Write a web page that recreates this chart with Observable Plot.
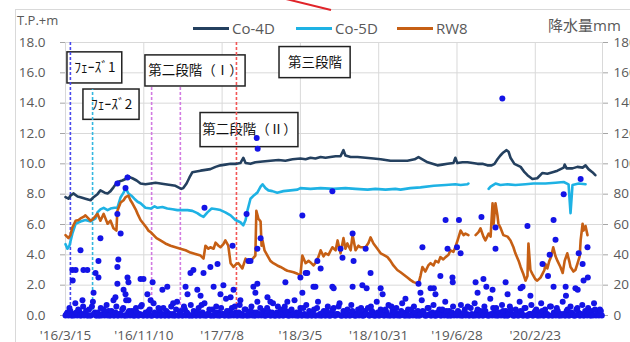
<!DOCTYPE html>
<html><head><meta charset="utf-8">
<script src="https://cdn.jsdelivr.net/npm/d3@7"></script>
<script src="https://cdn.jsdelivr.net/npm/@observablehq/plot@0.6"></script>
<style>
html,body{margin:0;padding:0;background:#fff;overflow:hidden}
#wrap{position:relative;width:630px;height:342px;overflow:hidden;background:#fff;font-family:"Open Sans","Noto Sans CJK JP",sans-serif;color:#595959}
.abs{position:absolute;white-space:nowrap}
#frame{position:absolute;left:15px;top:9px;width:700px;height:400px;border:1px solid #d9d9d9}
#chart{position:absolute;left:0;top:0}
.lg{position:absolute;top:21px;font-size:15px;line-height:15px;color:#595959}
.lgline{position:absolute;top:27px;height:3px}
</style></head>
<body>
<div id="wrap">
  <div id="frame"></div>
  <div id="chart"></div>
  <div class="abs" style="left:17px;top:13px;font-size:13px;line-height:14px">T.P.+m</div>
  <div id="legend"></div>
  <div class="abs" style="left:548px;top:17px;font-size:15px;line-height:16px">降水量mm</div>
  <svg class="abs" style="left:0;top:0" width="630" height="20"><line x1="286" y1="-1" x2="331" y2="10" stroke="#e0242a" stroke-width="2"/></svg>
</div>
<script>
// ---- data ----
const seriesNames = ["Co-4D","Co-5D","RW8"];
const seriesColors = ["#24405f","#1eb2e4","#c65f14"];

const yTicks = [0,2,4,6,8,10,12,14,16,18];
const yTickLabels = ["0.0","2.0","4.0","6.0","8.0","10.0","12.0","14.0","16.0","18.0"];
const rainTickLabels = ["0","20","40","60","80","100","120","140","160","180"];
const xTickDates = ["2016-03-15","2016-11-10","2017-07-08","2018-03-05","2018-10-31","2019-06-28","2020-02-23"];
const xTickLabels = ["'16/3/15","'16/11/10","'17/7/8","'18/3/5","'18/10/31","'19/6/28","'20/2/23"];
const xDomain = ["2016-03-15","2020-09-16"];

const co4d = [["2016-03-15",7.8],["2016-03-24",7.7],["2016-03-30",7.9],["2016-04-08",8.05],["2016-04-21",7.85],["2016-04-30",7.8],["2016-05-15",7.7],["2016-05-31",7.6],["2016-06-09",7.8],["2016-06-21",8.0],["2016-06-30",8.25],["2016-07-13",8.1],["2016-07-22",8.05],["2016-07-31",8.2],["2016-08-09",8.45],["2016-08-21",8.8],["2016-09-05",8.9],["2016-09-15",9.0],["2016-09-21",9.2],["2016-09-30",9.1],["2016-10-06",9.05],["2016-10-19",8.9],["2016-10-31",8.7],["2016-11-15",8.65],["2016-12-01",8.7],["2016-12-16",8.75],["2016-12-31",8.7],["2017-01-15",8.65],["2017-01-31",8.6],["2017-02-15",8.55],["2017-02-24",8.45],["2017-03-05",8.35],["2017-03-11",8.4],["2017-03-21",8.7],["2017-03-30",9.1],["2017-04-08",9.45],["2017-04-20",9.5],["2017-05-03",9.55],["2017-05-18",9.6],["2017-06-02",9.65],["2017-06-18",9.8],["2017-07-03",9.9],["2017-07-18",9.95],["2017-08-03",10.0],["2017-08-21",10.0],["2017-09-02",10.05],["2017-09-11",10.4],["2017-09-18",10.05],["2017-10-03",10.0],["2017-10-18",10.1],["2017-11-09",10.15],["2017-12-03",10.2],["2017-12-28",10.25],["2018-01-18",10.2],["2018-02-09",10.3],["2018-03-05",10.35],["2018-03-21",10.3],["2018-04-05",10.4],["2018-04-20",10.35],["2018-05-06",10.45],["2018-05-21",10.4],["2018-06-05",10.45],["2018-06-21",10.5],["2018-07-06",10.5],["2018-07-15",10.9],["2018-07-21",10.55],["2018-08-06",10.45],["2018-08-27",10.45],["2018-09-21",10.4],["2018-10-15",10.35],["2018-11-06",10.3],["2018-12-06",10.2],["2019-01-06",10.2],["2019-01-27",10.2],["2019-02-18",10.3],["2019-03-02",10.45],["2019-03-14",10.3],["2019-03-30",10.1],["2019-04-14",10.0],["2019-04-29",9.9],["2019-05-14",9.95],["2019-05-30",10.0],["2019-06-17",10.05],["2019-06-23",10.4],["2019-06-29",10.05],["2019-07-15",10.1],["2019-07-30",10.1],["2019-08-15",10.05],["2019-08-30",10.0],["2019-09-14",10.0],["2019-09-29",9.9],["2019-10-12",9.9],["2019-10-21",10.0],["2019-10-30",10.3],["2019-11-08",10.55],["2019-11-17",10.75],["2019-11-27",10.9],["2019-12-03",10.8],["2019-12-09",10.4],["2019-12-21",10.0],["2020-01-09",9.8],["2020-01-21",9.45],["2020-01-30",9.25],["2020-02-14",9.0],["2020-02-29",9.05],["2020-03-16",9.4],["2020-03-31",9.35],["2020-04-16",9.45],["2020-05-01",9.55],["2020-05-20",9.75],["2020-05-23",9.95],["2020-05-29",9.7],["2020-06-16",9.7],["2020-07-01",9.8],["2020-07-17",9.75],["2020-07-26",9.9],["2020-08-04",9.65],["2020-08-16",9.45],["2020-08-25",9.25]];

const co5d = [["2016-03-15",4.7],["2016-03-21",4.4],["2016-03-27",4.6],["2016-04-05",5.4],["2016-04-15",6.05],["2016-04-30",6.2],["2016-05-15",6.3],["2016-05-31",6.2],["2016-06-15",6.4],["2016-06-21",6.8],["2016-06-30",7.0],["2016-07-10",7.1],["2016-07-22",6.95],["2016-07-31",7.05],["2016-08-12",7.1],["2016-08-21",7.1],["2016-08-31",7.8],["2016-09-09",8.1],["2016-09-15",8.4],["2016-09-24",8.05],["2016-10-03",7.9],["2016-10-12",7.7],["2016-10-22",7.5],["2016-10-31",7.4],["2016-11-15",7.1],["2016-12-01",7.05],["2016-12-13",7.2],["2016-12-22",7.1],["2017-01-06",7.15],["2017-01-21",7.05],["2017-02-06",7.0],["2017-02-21",6.95],["2017-03-08",6.95],["2017-03-24",6.95],["2017-04-08",6.9],["2017-04-23",6.75],["2017-05-03",6.6],["2017-05-12",6.5],["2017-05-24",6.8],["2017-06-06",7.05],["2017-06-21",7.0],["2017-07-03",6.95],["2017-07-18",6.8],["2017-08-03",6.6],["2017-08-18",6.3],["2017-09-02",6.15],["2017-09-11",5.95],["2017-09-18",6.3],["2017-09-24",6.95],["2017-10-03",7.7],["2017-10-15",7.95],["2017-10-24",8.1],["2017-11-03",8.5],["2017-11-09",8.65],["2017-11-18",8.4],["2017-11-27",8.25],["2017-12-09",8.2],["2017-12-24",8.1],["2018-01-12",8.2],["2018-02-03",8.25],["2018-02-24",8.3],["2018-03-05",8.4],["2018-04-05",8.35],["2018-05-06",8.4],["2018-06-15",8.35],["2018-07-21",8.4],["2018-08-21",8.35],["2018-09-27",8.3],["2018-10-21",8.35],["2018-11-21",8.3],["2018-12-21",8.35],["2019-01-06",8.3],["2019-02-05",8.4],["2019-03-08",8.45],["2019-04-18",8.55],["2019-05-24",8.6],["2019-06-23",8.65],["2019-07-09",8.6],["2019-07-30",8.65],["2019-08-02",8.7],["2019-08-20",null],["2019-10-03",8.35],["2019-10-09",8.5],["2019-10-24",8.7],["2019-11-08",8.6],["2019-11-30",8.65],["2019-12-24",8.6],["2020-01-24",8.65],["2020-02-17",8.7],["2020-03-25",8.7],["2020-04-25",8.75],["2020-05-20",8.8],["2020-06-04",8.65],["2020-06-10",6.75],["2020-06-16",8.6],["2020-07-05",8.7],["2020-07-26",8.65]];

const rw8 = [["2016-03-15",5.3],["2016-03-24",5.1],["2016-03-30",5.3],["2016-04-05",5.8],["2016-04-15",6.25],["2016-04-24",6.3],["2016-04-30",6.4],["2016-05-09",6.5],["2016-05-15",6.6],["2016-05-24",6.4],["2016-05-31",6.25],["2016-06-09",6.4],["2016-06-21",6.7],["2016-06-30",6.25],["2016-07-10",6.7],["2016-07-22",6.05],["2016-07-31",6.25],["2016-08-09",5.75],["2016-08-18",5.6],["2016-08-21",6.9],["2016-08-31",7.45],["2016-09-09",7.6],["2016-09-15",7.8],["2016-09-24",7.9],["2016-09-30",7.6],["2016-10-06",7.4],["2016-10-16",7.0],["2016-10-22",6.7],["2016-10-31",6.3],["2016-11-09",6.05],["2016-11-18",5.8],["2016-11-24",5.6],["2016-12-01",5.5],["2016-12-10",5.3],["2016-12-19",5.1],["2016-12-31",4.95],["2017-01-15",4.75],["2017-01-31",4.6],["2017-02-15",4.5],["2017-03-02",4.4],["2017-03-18",4.3],["2017-04-02",4.15],["2017-04-17",4.05],["2017-05-03",3.95],["2017-05-12",3.75],["2017-05-18",4.6],["2017-05-27",4.4],["2017-06-02",4.5],["2017-06-12",4.4],["2017-06-18",4.8],["2017-06-27",4.6],["2017-07-03",4.5],["2017-07-12",4.7],["2017-07-18",4.95],["2017-07-27",4.6],["2017-08-03",3.45],["2017-08-12",3.2],["2017-08-21",3.4],["2017-08-27",3.45],["2017-09-08",3.1],["2017-09-18",3.75],["2017-09-24",3.5],["2017-10-03",3.6],["2017-10-12",3.8],["2017-10-18",3.95],["2017-10-21",6.9],["2017-10-27",6.4],["2017-11-03",6.2],["2017-11-06",4.6],["2017-11-09",4.95],["2017-11-15",4.3],["2017-11-24",3.95],["2017-12-03",3.6],["2017-12-12",3.45],["2017-12-24",3.3],["2018-01-03",3.2],["2018-01-15",3.05],["2018-01-24",2.95],["2018-02-03",2.9],["2018-02-12",2.85],["2018-02-24",2.75],["2018-03-05",2.65],["2018-03-11",3.95],["2018-03-21",3.45],["2018-03-30",3.6],["2018-04-05",3.5],["2018-04-14",3.3],["2018-04-20",3.45],["2018-04-30",3.9],["2018-05-06",4.3],["2018-05-15",3.9],["2018-05-21",4.1],["2018-05-30",4.0],["2018-06-11",4.5],["2018-06-21",4.3],["2018-06-27",4.95],["2018-07-06",4.1],["2018-07-15",5.1],["2018-07-21",4.4],["2018-07-27",4.75],["2018-08-06",4.3],["2018-08-12",5.3],["2018-08-21",4.3],["2018-08-30",4.6],["2018-09-05",4.5],["2018-09-21",4.5],["2018-09-30",4.8],["2018-10-06",5.15],["2018-10-15",4.75],["2018-10-27",4.4],["2018-11-06",4.1],["2018-11-15",4.0],["2018-11-27",3.85],["2018-12-06",3.6],["2018-12-15",3.3],["2018-12-27",3.0],["2019-01-06",2.85],["2019-01-18",2.65],["2019-01-27",2.5],["2019-02-05",2.35],["2019-02-15",2.2],["2019-03-02",2.1],["2019-03-08",2.6],["2019-03-14",3.2],["2019-03-23",2.9],["2019-04-01",3.3],["2019-04-08",3.45],["2019-04-17",3.3],["2019-04-23",3.6],["2019-05-02",3.5],["2019-05-08",3.85],["2019-05-17",3.7],["2019-05-24",3.85],["2019-06-02",4.0],["2019-06-08",4.3],["2019-06-17",4.2],["2019-06-23",4.5],["2019-07-02",5.1],["2019-07-09",5.6],["2019-07-18",5.3],["2019-07-24",5.4],["2019-08-02",5.3],["2019-08-13",null],["2019-08-24",5.3],["2019-09-02",5.5],["2019-09-08",5.75],["2019-09-17",5.2],["2019-09-23",4.95],["2019-10-03",5.4],["2019-10-09",5.2],["2019-10-15",7.4],["2019-10-18",6.0],["2019-10-24",7.4],["2019-10-30",6.6],["2019-11-02",6.05],["2019-11-08",5.8],["2019-11-17",5.3],["2019-11-30",5.2],["2019-12-09",4.95],["2019-12-18",4.5],["2019-12-24",4.1],["2020-01-03",3.6],["2020-01-09",3.2],["2020-01-18",2.7],["2020-01-24",2.3],["2020-01-30",2.6],["2020-02-02",4.75],["2020-02-08",3.0],["2020-02-14",2.75],["2020-02-23",2.4],["2020-02-29",2.3],["2020-03-10",2.5],["2020-03-16",2.75],["2020-03-22",3.0],["2020-03-25",3.4],["2020-03-31",3.1],["2020-04-06",3.6],["2020-04-12",3.9],["2020-04-18",4.5],["2020-04-25",3.9],["2020-05-01",3.6],["2020-05-10",3.2],["2020-05-17",2.8],["2020-05-23",3.6],["2020-05-31",4.1],["2020-06-07",3.5],["2020-06-10",3.2],["2020-06-19",2.9],["2020-06-25",3.0],["2020-07-01",3.4],["2020-07-08",3.9],["2020-07-11",4.95],["2020-07-17",6.05],["2020-07-20",5.6],["2020-07-26",5.9],["2020-08-01",5.3]];

// precipitation (mm): larger events read individually
const rainPeaks = [["2016-04-05",30],["2016-04-15",30],["2016-04-06",23],["2016-04-30",43],["2016-05-06",10],["2016-05-09",30],["2016-05-21",30],["2016-06-09",15],["2016-06-15",28],["2016-06-24",25],["2016-06-24",36],["2016-06-30",51],["2016-08-09",10],["2016-08-15",12],["2016-08-21",21],["2016-08-21",32],["2016-08-24",37],["2016-08-31",54],["2016-08-21",67],["2016-08-21",87],["2016-09-15",84],["2016-09-21",91],["2016-09-09",17],["2016-09-15",14],["2016-09-21",25],["2016-09-24",22],["2016-09-24",10],["2016-10-31",24],["2016-11-09",24],["2016-11-21",14],["2016-12-01",10],["2016-12-07",22],["2017-01-06",17],["2017-01-21",19],["2017-02-08",8],["2017-03-18",19],["2017-03-24",14],["2017-04-02",28],["2017-04-11",30],["2017-04-23",17],["2017-05-03",13],["2017-05-12",28],["2017-05-15",71],["2017-06-02",32],["2017-06-12",19],["2017-06-24",34],["2017-07-03",14],["2017-07-12",20],["2017-08-03",12],["2017-08-09",46],["2017-08-12",17],["2017-09-02",10],["2017-09-21",67],["2017-09-27",36],["2017-10-03",36],["2017-10-12",19],["2017-10-18",15],["2017-10-22",117],["2017-10-25",110],["2017-10-24",44],["2017-11-03",51],["2017-10-24",21],["2017-11-24",12],["2017-12-03",9],["2018-01-18",22],["2018-01-24",9],["2018-03-05",25],["2018-03-11",15],["2018-03-11",66],["2018-03-21",28],["2018-03-26",28],["2018-04-14",19],["2018-04-20",19],["2018-04-26",36],["2018-05-06",31],["2018-06-11",82],["2018-06-11",19],["2018-06-15",18],["2018-07-06",44],["2018-07-12",38],["2018-08-12",54],["2018-08-12",19],["2018-08-15",36],["2018-09-11",20],["2018-09-21",44],["2018-09-24",18],["2018-10-06",28],["2018-11-06",18],["2018-11-12",14],["2019-01-21",11],["2019-03-02",21],["2019-03-08",15],["2019-03-14",45],["2019-04-08",18],["2019-04-18",18],["2019-04-23",14],["2019-05-08",26],["2019-05-24",63],["2019-05-30",44],["2019-06-14",25],["2019-06-15",22],["2019-06-28",45],["2019-07-04",63],["2019-07-09",41],["2019-08-24",22],["2019-08-30",15],["2019-09-11",65],["2019-09-17",24],["2019-09-26",19],["2019-10-15",17],["2019-10-24",58],["2019-10-24",44],["2019-11-14",143],["2019-11-24",22],["2019-11-30",14],["2020-01-09",18],["2020-01-15",19],["2020-01-30",59],["2020-02-08",13],["2020-03-16",34],["2020-04-02",26],["2020-04-07",40],["2020-04-19",63],["2020-04-19",19],["2020-04-25",50],["2020-05-20",80],["2020-05-26",19],["2020-05-27",13],["2020-06-25",18],["2020-07-02",17],["2020-07-05",41],["2020-07-11",90],["2020-07-17",34],["2020-07-20",23],["2020-08-01",45],["2020-08-02",25]];

// precipitation (mm): small amounts, one reading every 6 days from 2016-03-15
const rainSmallStart = "2016-03-15";
const rainSmall = [
0,2,5,0,1,8,0,3,0,6,1,0,4,0,9,2,0,0,5,1,0,7,3,0,2,
0,6,0,1,4,0,10,2,0,3,0,5,0,1,7,0,2,0,4,0,8,1,0,3,0,
5,0,2,0,6,1,0,9,0,3,0,4,2,0,7,0,1,0,5,0,2,8,0,1,0,
4,0,6,2,0,1,0,11,0,3,5,0,2,0,7,1,0,4,0,0,6,2,0,9,1,
0,3,0,5,1,0,8,0,2,0,4,0,6,1,0,3,0,10,2,0,5,0,1,7,0,
2,0,4,0,9,1,0,3,0,6,0,2,5,0,1,8,0,3,0,4,0,7,2,0,1,
0,5,0,3,1,0,6,2,0,9,0,4,1,0,2,7,0,3,0,5,1,0,8,0,2,
4,0,1,6,0,3,0,10,2,0,5,1,0,7,0,2,4,0,1,9,0,3,0,6,1,
0,2,7,0,4,1,0,5,0,8,2,0,3,0,6,1,0,11,0,2,5,0,1,7,0,
3,0,6,1,0,4,0,9,2,0,5,0,1,7,0,3,0,2,8,0,4,1,0,6,0,
2,5,0,1,9,0,3,0,6,1,0,4,2,0,7,0,1,5,0,3,8,0,2,4,0];
// precipitation (mm): small amounts, one reading every 6 days from 2016-03-18
const rainSmall2Start = "2016-03-18";
const rainSmall2 = [
1,0,3,0,0,2,4,0,1,0,3,0,0,6,1,0,2,0,0,4,1,0,0,3,0,
2,0,1,0,5,0,0,3,1,0,0,2,0,6,0,1,0,3,0,0,2,0,5,0,1,
0,3,0,1,0,0,4,0,2,0,6,0,1,0,0,3,0,2,0,7,0,0,1,4,0,
0,2,0,0,5,1,0,3,0,0,1,6,0,2,0,0,4,0,1,3,0,0,2,0,5,
1,0,0,3,0,2,0,0,6,0,1,0,3,0,0,4,1,0,0,2,0,5,0,0,3,
0,1,0,5,0,0,2,0,3,0,0,4,0,1,6,0,0,2,0,1,0,3,0,0,4,
2,0,0,1,5,0,3,0,0,2,0,1,0,4,0,0,6,0,2,0,0,3,1,0,0,
0,4,0,2,0,0,1,3,0,0,5,0,2,0,0,1,0,4,0,3,0,0,2,0,1,
3,0,0,2,0,6,0,1,0,0,4,0,2,0,3,0,0,1,5,0,0,2,0,3,0,
0,1,4,0,0,2,0,3,0,5,0,0,1,0,2,4,0,0,3,0,1,0,6,0,2,
0,3,0,0,1,0,4,0,2,0,0,5,0,1,0,3,0,2,0,0,4,1,0,3];

// phase markers
const phaseDates = ["2016-03-30","2016-06-06","2016-12-04","2017-03-02","2017-08-21"];
const phaseColors = ["#4848ee","#33b7e0","#d27ae2","#d27ae2","#f25555"];
const phaseTops = [18,14.9,15.1,15.1,18];

// annotation boxes
const annoLabels = ["ﾌｪｰｽﾞ1","ﾌｪｰｽﾞ2","第二段階（Ⅰ）","第三段階","第二段階（Ⅱ）"];
const annoStart = ["2016-03-21","2016-05-09","2016-11-15","2017-12-31","2017-05-03"];
const annoEnd = ["2016-09-05","2016-10-28","2017-09-18","2018-08-06","2018-02-27"];
const annoLow = [15.3,12.9,15.1,15.65,11.1];
const annoHigh = [17.35,14.9,17.15,17.7,13.35];

// ---- build ----
const D = s => new Date(s + "T00:00:00Z");
const toRows = arr => arr.map(([d, v]) => ({date: D(d), value: v}));
const tickDates = xTickDates.map(D);
const end = D(xDomain[1]);
const rain = [
  ...rainSmall.map((v, i) => ({date: d3.utcDay.offset(D(rainSmallStart), i * 6), mm: v})),
  ...rainSmall2.map((v, i) => ({date: d3.utcDay.offset(D(rainSmall2Start), i * 6), mm: v})),
  ...rainPeaks.map(([d, v]) => ({date: D(d), mm: v}))
].filter(r => r.date <= end);
const annos = annoLabels.map((t, i) => ({
  label: t, x1: D(annoStart[i]), x2: D(annoEnd[i]), y1: annoLow[i], y2: annoHigh[i],
  xm: new Date((+D(annoStart[i]) + +D(annoEnd[i])) / 2), ym: (annoLow[i] + annoHigh[i]) / 2
}));
const phases = phaseDates.map((d, i) => ({date: D(d), color: phaseColors[i], top: phaseTops[i]}));

const chart = Plot.plot({
  width: 630, height: 342,
  marginLeft: 65, marginRight: 28, marginTop: 42, marginBottom: 27,
  x: {type: "utc", domain: xDomain.map(D)},
  y: {domain: [0, 18]},
  color: {type: "identity"},
  style: {fontFamily: '"Open Sans","Noto Sans CJK JP",sans-serif', fontSize: "13.5px", color: "#595959", background: "transparent", overflow: "visible"},
  marks: [
    Plot.gridY(yTicks, {stroke: "#d9d9d9", strokeOpacity: 1}),
    Plot.gridX(tickDates, {stroke: "#d9d9d9", strokeOpacity: 1}),
    Plot.ruleX([end], {stroke: "#d9d9d9"}),
    Plot.axisY({ticks: yTicks, tickFormat: d => yTickLabels[yTicks.indexOf(d)], tickSize: 5, tickPadding: 15, stroke: "#a6a6a6", label: null}),
    Plot.axisY({anchor: "right", ticks: yTicks, tickFormat: d => rainTickLabels[yTicks.indexOf(d)], tickSize: 5, tickPadding: 6, stroke: "#a6a6a6", label: null}),
    Plot.axisX({ticks: tickDates, tickFormat: d => xTickLabels[tickDates.findIndex(t => +t === +d)], tickSize: 0, tickPadding: 15, fontSize: 13.5, label: null}),
    Plot.rect(annos, {x1: "x1", x2: "x2", y1: "y1", y2: "y2", fill: "white", stroke: "#222", strokeWidth: 1.5}),
    Plot.text(annos, {x: "xm", y: "ym", text: "label", fill: "#111", fontSize: 13.5, fontFamily: '"Noto Sans CJK JP",sans-serif'}),
    Plot.ruleX(phases, {x: "date", y1: 0, y2: "top", stroke: "color", strokeWidth: 1.6, strokeDasharray: "3,2"}),
    Plot.line(toRows(co4d), {x: "date", y: "value", stroke: seriesColors[0], strokeWidth: 2.6}),
    Plot.line(toRows(co5d), {x: "date", y: "value", stroke: seriesColors[1], strokeWidth: 2.6}),
    Plot.line(toRows(rw8), {x: "date", y: "value", stroke: seriesColors[2], strokeWidth: 2.6}),
    Plot.dot(rain, {x: "date", y: d => d.mm / 10, r: 3, fill: "#1414e6", stroke: null})
  ]
});
document.getElementById("chart").appendChild(chart);

// legend
const legendLineX = [193, 296, 397];
const legend = document.getElementById("legend");
seriesNames.forEach((n, i) => {
  const l = document.createElement("div");
  l.className = "lgline";
  l.style.left = legendLineX[i] + "px"; l.style.width = "36px"; l.style.background = seriesColors[i];
  legend.appendChild(l);
  const t = document.createElement("div");
  t.className = "lg";
  t.style.left = (legendLineX[i] + 39) + "px";
  t.textContent = n;
  legend.appendChild(t);
});
</script>
</body></html>
